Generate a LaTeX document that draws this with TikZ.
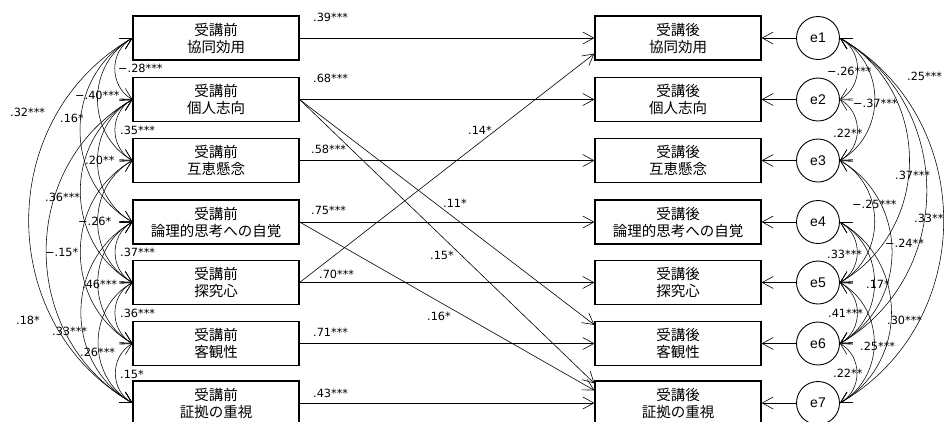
\documentclass[tikz,border=0pt]{standalone}
\usepackage{fontspec}
\newfontfamily\cjk{Noto Sans CJK JP}
\newfontfamily\labfont{DejaVu Sans}
\newfontfamily\libfont{Liberation Sans}
\usetikzlibrary{arrows.meta}
\tikzset{
  boxnode/.style={draw, line width=1.2pt, minimum width=166pt, minimum height=44pt, inner sep=0pt, align=center, font=\cjk\fontsize{14.5}{17}\selectfont},
  errnode/.style={draw, circle, line width=0.9pt, minimum size=43pt, inner sep=0pt, font=\libfont\fontsize{14}{16}\selectfont},
  coef/.style={anchor=west, inner sep=0pt, font=\labfont\fontsize{11.3}{13}\selectfont},
  regarrow/.style={-{Straight Barb[length=11pt,width=12pt]}, line width=0.6pt},
  covarrow/.style={{Straight Barb[length=11pt,width=12pt]}-{Straight Barb[length=11pt,width=12pt]}, line width=0.55pt},
  lcov/.style={covarrow, bend right=60, looseness=1.12},
  rcov/.style={covarrow, bend left=60, looseness=1.12},
}
\begin{document}
\begin{tikzpicture}[x=1pt,y=-1pt]
\useasboundingbox (0,0) rectangle (944,421);
% pre boxes
\node[boxnode] (p1) at (216,38)    {受講前\\協同効用};
\node[boxnode] (p2) at (216,99.5)  {受講前\\個人志向};
\node[boxnode] (p3) at (216,160.5) {受講前\\互恵懸念};
\node[boxnode] (p4) at (216,222)   {受講前\\論理的思考への自覚};
\node[boxnode] (p5) at (216,282.5) {受講前\\探究心};
\node[boxnode] (p6) at (216,343.5) {受講前\\客観性};
\node[boxnode] (p7) at (216,403)   {受講前\\証拠の重視};
% post boxes
\node[boxnode] (q1) at (678,38)    {受講後\\協同効用};
\node[boxnode] (q2) at (678,99.5)  {受講後\\個人志向};
\node[boxnode] (q3) at (678,160.5) {受講後\\互恵懸念};
\node[boxnode] (q4) at (678,222)   {受講後\\論理的思考への自覚};
\node[boxnode] (q5) at (678,282.5) {受講後\\探究心};
\node[boxnode] (q6) at (678,343.5) {受講後\\客観性};
\node[boxnode] (q7) at (678,403)   {受講後\\証拠の重視};
% error terms
\node[errnode] (e1) at (818,38)    {e1};
\node[errnode] (e2) at (818,99.5)  {e2};
\node[errnode] (e3) at (818,160.5) {e3};
\node[errnode] (e4) at (818,222)   {e4};
\node[errnode] (e5) at (818,282.5) {e5};
\node[errnode] (e6) at (818,343.5) {e6};
\node[errnode] (e7) at (818,403)   {e7};
% regressions
\foreach \i in {1,...,7} {
  \draw[regarrow] (p\i.east) -- (q\i.west);
  \draw[regarrow] (e\i) -- (q\i.east);
}
\draw[regarrow] (p5.east) -- ([yshift=7pt]q1.south west);
\draw[regarrow] (p2.east) -- ([yshift=-4pt]q6.north west);
\draw[regarrow] (p2.east) -- ([yshift=-3pt]q7.north west);
\draw[regarrow] (p4.east) -- ([yshift=-10pt]q7.north west);
% left covariances
\foreach \a/\b in {1/2,2/3,4/5,5/6,6/7,1/3,2/4,3/5,4/6,5/7,1/4,2/5,3/6,4/7,2/7,1/7} {
  \draw[lcov] (p\a.west) to (p\b.west);
}
% right covariances
\foreach \a/\b in {1/2,2/3,4/5,5/6,6/7,1/3,3/5,4/6,5/7,3/6,4/7,1/5,1/6,1/7} {
  \draw[rcov] (e\a.east) to (e\b.east);
}
% regression labels
\node[coef] (r1) at (313,17)  {.39***};
\node[coef] (r2) at (313,78)  {.68***};
\node[coef] (r3) at (311,149) {.58***};
\node[coef] (r4) at (311,210) {.75***};
\node[coef] (r5) at (319,274) {.70***};
\node[coef] (r6) at (313,332) {.71***};
\node[coef] (r7) at (313,393) {.43***};
\node[coef] (r8) at (468,130) {.14*};
\node[coef] (r9) at (443,203) {.11*};
\node[coef] (r10) at (430,255) {.15*};
\node[coef] (r11) at (427,316) {.16*};
% left covariance labels
\node[coef] (l1) at (118,68)  {−.28***};
\node[coef] (l2) at (75,95)   {−.40***};
\node[coef] (l3) at (10,112)  {.32***};
\node[coef] (l4) at (60,118)  {.16*};
\node[coef] (l5) at (120,130) {.35***};
\node[coef] (l6) at (85,160)  {.20**};
\node[coef] (l7) at (45,197)  {.36***};
\node[coef] (l8) at (78,221)  {−.26*};
\node[coef] (l9) at (45,252)  {−.15*};
\node[coef] (l10) at (120,252) {.37***};
\node[coef] (l11) at (82,284)  {.46***};
\node[coef] (l12) at (120,313) {.36***};
\node[coef] (l13) at (16,320)  {.18*};
\node[coef] (l14) at (52,331)  {.33***};
\node[coef] (l15) at (80,352)  {.26***};
\node[coef] (l16) at (120,374) {.15*};
% right covariance labels
\node[coef] (c1) at (827,71)  {−.26***};
\node[coef] (c2) at (907,76)  {.25***};
\node[coef] (c3) at (853,103) {−.37***};
\node[coef] (c4) at (833,133) {.22**};
\node[coef] (c5) at (895,175) {.37***};
\node[coef] (c6) at (852,204) {−.25***};
\node[coef] (c7) at (914,218) {.33**};
\node[coef] (c8) at (885,243) {−.24**};
\node[coef] (c9) at (827,254) {.33***};
\node[coef] (c10) at (866,284) {.17*};
\node[coef] (c11) at (828,313) {.41***};
\node[coef] (c12) at (887,320) {.30***};
\node[coef] (c13) at (860,346) {.25***};
\node[coef] (c14) at (833,373) {.22**};
\end{tikzpicture}
\end{document}
